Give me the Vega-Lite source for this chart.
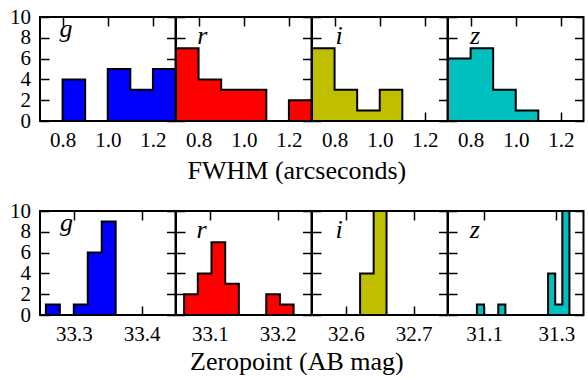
{
  "$schema": "https://vega.github.io/schema/vega-lite/v6.json",
  "padding": {"left": 8, "top": 5, "right": 0, "bottom": 0},
  "datasets": {
    "fwhm": [
      {"band": "g", "x": 0.8, "n": 4}, {"band": "g", "x": 0.9, "n": 0}, {"band": "g", "x": 1.0, "n": 5}, {"band": "g", "x": 1.1, "n": 3}, {"band": "g", "x": 1.2, "n": 5}, {"band": "g", "x": 1.3, "n": 0},
      {"band": "r", "x": 0.7, "n": 7}, {"band": "r", "x": 0.8, "n": 4}, {"band": "r", "x": 0.9, "n": 3}, {"band": "r", "x": 1.0, "n": 3}, {"band": "r", "x": 1.1, "n": 0}, {"band": "r", "x": 1.2, "n": 2}, {"band": "r", "x": 1.3, "n": 0},
      {"band": "i", "x": 0.7, "n": 7}, {"band": "i", "x": 0.8, "n": 3}, {"band": "i", "x": 0.9, "n": 1}, {"band": "i", "x": 1.0, "n": 3}, {"band": "i", "x": 1.1, "n": 0},
      {"band": "z", "x": 0.7, "n": 6}, {"band": "z", "x": 0.8, "n": 7}, {"band": "z", "x": 0.9, "n": 3}, {"band": "z", "x": 1.0, "n": 1}, {"band": "z", "x": 1.1, "n": 0}
    ],
    "zp": [
      {"band": "g", "x": 33.2587, "n": 1}, {"band": "g", "x": 33.2793, "n": 0}, {"band": "g", "x": 33.2999, "n": 1}, {"band": "g", "x": 33.3205, "n": 6}, {"band": "g", "x": 33.3411, "n": 9}, {"band": "g", "x": 33.3617, "n": 0},
      {"band": "r", "x": 33.062, "n": 2}, {"band": "r", "x": 33.0822, "n": 4}, {"band": "r", "x": 33.1024, "n": 7}, {"band": "r", "x": 33.1226, "n": 3}, {"band": "r", "x": 33.1428, "n": 0}, {"band": "r", "x": 33.1832, "n": 2}, {"band": "r", "x": 33.2034, "n": 1}, {"band": "r", "x": 33.2236, "n": 0},
      {"band": "i", "x": 32.621, "n": 4}, {"band": "i", "x": 32.641, "n": 10}, {"band": "i", "x": 32.66, "n": 0},
      {"band": "z", "x": 31.08, "n": 1}, {"band": "z", "x": 31.0997, "n": 0}, {"band": "z", "x": 31.1391, "n": 1}, {"band": "z", "x": 31.1588, "n": 0}, {"band": "z", "x": 31.277, "n": 4}, {"band": "z", "x": 31.2967, "n": 1}, {"band": "z", "x": 31.3164, "n": 10}, {"band": "z", "x": 31.3361, "n": 0}
    ],
    "labels": [
      {"panel": "fwhm-g", "band": "g", "lx": 0.815, "ly": 8.08},
      {"panel": "fwhm-r", "band": "r", "lx": 0.816, "ly": 7.45},
      {"panel": "fwhm-i", "band": "i", "lx": 0.82, "ly": 7.45},
      {"panel": "fwhm-z", "band": "z", "lx": 0.82, "ly": 7.45},
      {"panel": "zp-g", "band": "g", "lx": 33.289, "ly": 8.08},
      {"panel": "zp-r", "band": "r", "lx": 33.0878, "ly": 7.45},
      {"panel": "zp-i", "band": "i", "lx": 32.59, "ly": 7.45},
      {"panel": "zp-z", "band": "z", "lx": 31.074, "ly": 7.45}
    ]
  },
  "vconcat": [
    {
      "spacing": 0,
      "bounds": "flush",
      "title": {"text": "FWHM (arcseconds)", "orient": "bottom", "anchor": "middle", "offset": 7},
      "hconcat": [
        {
          "width": 135.5, "height": 104,
          "resolve": {"axis": {"x": "independent", "y": "independent"}},
          "layer": [
            {"data": {"name": "fwhm"}, "transform": [{"filter": "datum.band == 'g'"}],
             "mark": {"type": "area", "interpolate": "step-after", "fill": "#0000ff", "stroke": "black", "strokeWidth": 2, "clip": true},
             "encoding": {
               "x": {"field": "x", "type": "quantitative", "scale": {"domain": [0.7, 1.3], "nice": false, "zero": false}, "axis": {"orient": "bottom", "values": [0.8, 1.0, 1.2], "format": ".1f", "title": null}},
               "y": {"field": "n", "type": "quantitative", "stack": null, "scale": {"domain": [0, 10], "nice": false}, "axis": {"orient": "left", "values": [0, 2, 4, 6, 8, 10], "title": null}}
             }},
            {"data": {"name": "labels"}, "transform": [{"filter": "datum.panel == 'fwhm-g'"}],
             "mark": {"type": "text", "font": "Liberation Serif", "fontStyle": "italic", "fontSize": 26, "align": "center", "baseline": "alphabetic"},
             "encoding": {
               "x": {"field": "lx", "type": "quantitative", "axis": {"orient": "top", "values": [0.8, 1.0, 1.2], "labels": false, "title": null}},
               "y": {"field": "ly", "type": "quantitative", "axis": {"orient": "right", "values": [0, 2, 4, 6, 8, 10], "labels": false, "title": null}},
               "text": {"field": "band"}
             }}
          ]
        },
        {
          "width": 135.5, "height": 104,
          "resolve": {"axis": {"x": "independent", "y": "independent"}},
          "layer": [
            {"data": {"name": "fwhm"}, "transform": [{"filter": "datum.band == 'r'"}],
             "mark": {"type": "area", "interpolate": "step-after", "fill": "#ff0000", "stroke": "black", "strokeWidth": 2, "clip": true},
             "encoding": {
               "x": {"field": "x", "type": "quantitative", "scale": {"domain": [0.7, 1.3], "nice": false, "zero": false}, "axis": {"orient": "bottom", "values": [0.8, 1.0, 1.2], "format": ".1f", "title": null}},
               "y": {"field": "n", "type": "quantitative", "stack": null, "scale": {"domain": [0, 10], "nice": false}, "axis": {"orient": "left", "values": [0, 2, 4, 6, 8, 10], "labels": false, "title": null}}
             }},
            {"data": {"name": "labels"}, "transform": [{"filter": "datum.panel == 'fwhm-r'"}],
             "mark": {"type": "text", "font": "Liberation Serif", "fontStyle": "italic", "fontSize": 26, "align": "center", "baseline": "alphabetic"},
             "encoding": {
               "x": {"field": "lx", "type": "quantitative", "axis": {"orient": "top", "values": [0.8, 1.0, 1.2], "labels": false, "title": null}},
               "y": {"field": "ly", "type": "quantitative", "axis": {"orient": "right", "values": [0, 2, 4, 6, 8, 10], "labels": false, "title": null}},
               "text": {"field": "band"}
             }}
          ]
        },
        {
          "width": 135.5, "height": 104,
          "resolve": {"axis": {"x": "independent", "y": "independent"}},
          "layer": [
            {"data": {"name": "fwhm"}, "transform": [{"filter": "datum.band == 'i'"}],
             "mark": {"type": "area", "interpolate": "step-after", "fill": "#bfbf00", "stroke": "black", "strokeWidth": 2, "clip": true},
             "encoding": {
               "x": {"field": "x", "type": "quantitative", "scale": {"domain": [0.7, 1.3], "nice": false, "zero": false}, "axis": {"orient": "bottom", "values": [0.8, 1.0, 1.2], "format": ".1f", "title": null}},
               "y": {"field": "n", "type": "quantitative", "stack": null, "scale": {"domain": [0, 10], "nice": false}, "axis": {"orient": "left", "values": [0, 2, 4, 6, 8, 10], "labels": false, "title": null}}
             }},
            {"data": {"name": "labels"}, "transform": [{"filter": "datum.panel == 'fwhm-i'"}],
             "mark": {"type": "text", "font": "Liberation Serif", "fontStyle": "italic", "fontSize": 26, "align": "center", "baseline": "alphabetic"},
             "encoding": {
               "x": {"field": "lx", "type": "quantitative", "axis": {"orient": "top", "values": [0.8, 1.0, 1.2], "labels": false, "title": null}},
               "y": {"field": "ly", "type": "quantitative", "axis": {"orient": "right", "values": [0, 2, 4, 6, 8, 10], "labels": false, "title": null}},
               "text": {"field": "band"}
             }}
          ]
        },
        {
          "width": 135.5, "height": 104,
          "resolve": {"axis": {"x": "independent", "y": "independent"}},
          "layer": [
            {"data": {"name": "fwhm"}, "transform": [{"filter": "datum.band == 'z'"}],
             "mark": {"type": "area", "interpolate": "step-after", "fill": "#00bfbf", "stroke": "black", "strokeWidth": 2, "clip": true},
             "encoding": {
               "x": {"field": "x", "type": "quantitative", "scale": {"domain": [0.7, 1.3], "nice": false, "zero": false}, "axis": {"orient": "bottom", "values": [0.8, 1.0, 1.2], "format": ".1f", "title": null}},
               "y": {"field": "n", "type": "quantitative", "stack": null, "scale": {"domain": [0, 10], "nice": false}, "axis": {"orient": "left", "values": [0, 2, 4, 6, 8, 10], "labels": false, "title": null}}
             }},
            {"data": {"name": "labels"}, "transform": [{"filter": "datum.panel == 'fwhm-z'"}],
             "mark": {"type": "text", "font": "Liberation Serif", "fontStyle": "italic", "fontSize": 26, "align": "center", "baseline": "alphabetic"},
             "encoding": {
               "x": {"field": "lx", "type": "quantitative", "axis": {"orient": "top", "values": [0.8, 1.0, 1.2], "labels": false, "title": null}},
               "y": {"field": "ly", "type": "quantitative", "axis": {"orient": "right", "values": [0, 2, 4, 6, 8, 10], "labels": false, "title": null}},
               "text": {"field": "band"}
             }}
          ]
        }
      ]
    },
    {
      "spacing": 0,
      "bounds": "flush",
      "title": {"text": "Zeropoint (AB mag)", "orient": "bottom", "anchor": "middle", "offset": 4},
      "hconcat": [
        {
          "width": 135.5, "height": 104,
          "resolve": {"axis": {"x": "independent", "y": "independent"}},
          "layer": [
            {"data": {"name": "zp"}, "transform": [{"filter": "datum.band == 'g'"}],
             "mark": {"type": "area", "interpolate": "step-after", "fill": "#0000ff", "stroke": "black", "strokeWidth": 2, "clip": true},
             "encoding": {
               "x": {"field": "x", "type": "quantitative", "scale": {"domain": [33.25, 33.45], "nice": false, "zero": false}, "axis": {"orient": "bottom", "values": [33.3, 33.4], "format": ".1f", "title": null}},
               "y": {"field": "n", "type": "quantitative", "stack": null, "scale": {"domain": [0, 10], "nice": false}, "axis": {"orient": "left", "values": [0, 2, 4, 6, 8, 10], "title": null}}
             }},
            {"data": {"name": "labels"}, "transform": [{"filter": "datum.panel == 'zp-g'"}],
             "mark": {"type": "text", "font": "Liberation Serif", "fontStyle": "italic", "fontSize": 26, "align": "center", "baseline": "alphabetic"},
             "encoding": {
               "x": {"field": "lx", "type": "quantitative", "axis": {"orient": "top", "values": [33.3, 33.4], "labels": false, "title": null}},
               "y": {"field": "ly", "type": "quantitative", "axis": {"orient": "right", "values": [0, 2, 4, 6, 8, 10], "labels": false, "title": null}},
               "text": {"field": "band"}
             }}
          ]
        },
        {
          "width": 135.5, "height": 104,
          "resolve": {"axis": {"x": "independent", "y": "independent"}},
          "layer": [
            {"data": {"name": "zp"}, "transform": [{"filter": "datum.band == 'r'"}],
             "mark": {"type": "area", "interpolate": "step-after", "fill": "#ff0000", "stroke": "black", "strokeWidth": 2, "clip": true},
             "encoding": {
               "x": {"field": "x", "type": "quantitative", "scale": {"domain": [33.05, 33.25], "nice": false, "zero": false}, "axis": {"orient": "bottom", "values": [33.1, 33.2], "format": ".1f", "title": null}},
               "y": {"field": "n", "type": "quantitative", "stack": null, "scale": {"domain": [0, 10], "nice": false}, "axis": {"orient": "left", "values": [0, 2, 4, 6, 8, 10], "labels": false, "title": null}}
             }},
            {"data": {"name": "labels"}, "transform": [{"filter": "datum.panel == 'zp-r'"}],
             "mark": {"type": "text", "font": "Liberation Serif", "fontStyle": "italic", "fontSize": 26, "align": "center", "baseline": "alphabetic"},
             "encoding": {
               "x": {"field": "lx", "type": "quantitative", "axis": {"orient": "top", "values": [33.1, 33.2], "labels": false, "title": null}},
               "y": {"field": "ly", "type": "quantitative", "axis": {"orient": "right", "values": [0, 2, 4, 6, 8, 10], "labels": false, "title": null}},
               "text": {"field": "band"}
             }}
          ]
        },
        {
          "width": 135.5, "height": 104,
          "resolve": {"axis": {"x": "independent", "y": "independent"}},
          "layer": [
            {"data": {"name": "zp"}, "transform": [{"filter": "datum.band == 'i'"}],
             "mark": {"type": "area", "interpolate": "step-after", "fill": "#bfbf00", "stroke": "black", "strokeWidth": 2, "clip": true},
             "encoding": {
               "x": {"field": "x", "type": "quantitative", "scale": {"domain": [32.55, 32.75], "nice": false, "zero": false}, "axis": {"orient": "bottom", "values": [32.6, 32.7], "format": ".1f", "title": null}},
               "y": {"field": "n", "type": "quantitative", "stack": null, "scale": {"domain": [0, 10], "nice": false}, "axis": {"orient": "left", "values": [0, 2, 4, 6, 8, 10], "labels": false, "title": null}}
             }},
            {"data": {"name": "labels"}, "transform": [{"filter": "datum.panel == 'zp-i'"}],
             "mark": {"type": "text", "font": "Liberation Serif", "fontStyle": "italic", "fontSize": 26, "align": "center", "baseline": "alphabetic"},
             "encoding": {
               "x": {"field": "lx", "type": "quantitative", "axis": {"orient": "top", "values": [32.6, 32.7], "labels": false, "title": null}},
               "y": {"field": "ly", "type": "quantitative", "axis": {"orient": "right", "values": [0, 2, 4, 6, 8, 10], "labels": false, "title": null}},
               "text": {"field": "band"}
             }}
          ]
        },
        {
          "width": 135.5, "height": 104,
          "resolve": {"axis": {"x": "independent", "y": "independent"}},
          "layer": [
            {"data": {"name": "zp"}, "transform": [{"filter": "datum.band == 'z'"}],
             "mark": {"type": "area", "interpolate": "step-after", "fill": "#00bfbf", "stroke": "black", "strokeWidth": 2, "clip": true},
             "encoding": {
               "x": {"field": "x", "type": "quantitative", "scale": {"domain": [31.0, 31.375], "nice": false, "zero": false}, "axis": {"orient": "bottom", "values": [31.1, 31.3], "format": ".1f", "title": null}},
               "y": {"field": "n", "type": "quantitative", "stack": null, "scale": {"domain": [0, 10], "nice": false}, "axis": {"orient": "left", "values": [0, 2, 4, 6, 8, 10], "labels": false, "title": null}}
             }},
            {"data": {"name": "labels"}, "transform": [{"filter": "datum.panel == 'zp-z'"}],
             "mark": {"type": "text", "font": "Liberation Serif", "fontStyle": "italic", "fontSize": 26, "align": "center", "baseline": "alphabetic"},
             "encoding": {
               "x": {"field": "lx", "type": "quantitative", "axis": {"orient": "top", "values": [31.1, 31.3], "labels": false, "title": null}},
               "y": {"field": "ly", "type": "quantitative", "axis": {"orient": "right", "values": [0, 2, 4, 6, 8, 10], "labels": false, "title": null}},
               "text": {"field": "band"}
             }}
          ]
        }
      ]
    }
  ],
  "spacing": 15,
  "config": {
    "view": {"stroke": "black", "strokeWidth": 2},
    "axis": {"domain": false, "grid": false, "ticks": true, "tickSize": -9, "tickColor": "black", "tickWidth": 1.5, "labelFont": "Liberation Serif", "labelFontSize": 21, "labelColor": "black", "labelFlush": false, "labelOverlap": false, "labelBound": false, "minExtent": 0, "zindex": 1},
    "axisBottom": {"labelPadding": 17},
    "axisLeft": {"labelPadding": 18.5},
    "title": {"font": "Liberation Serif", "fontSize": 26, "fontWeight": "normal", "color": "black"}
  }
}
